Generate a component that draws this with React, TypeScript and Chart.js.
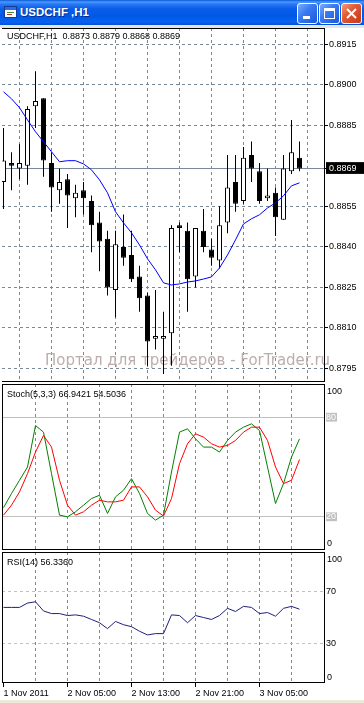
import React, { useEffect, useRef } from 'react';
import { Chart, registerables } from 'chart.js';

Chart.register(...registerables);

const FONT = '"Liberation Sans", Arial, sans-serif';
const WM_FONT = '"DejaVu Sans", Verdana, sans-serif';

// ---- data (one hourly bar per entry, from 1 Nov 21:00 to 3 Nov 10:00) ----
const OPEN = [0.8864, 0.8871, 0.8869, 0.8870, 0.8892, 0.8895, 0.8871, 0.8861, 0.8865, 0.8858, 0.8861, 0.8857, 0.8849, 0.8843, 0.8824, 0.8840, 0.8837, 0.8829, 0.8822, 0.8806, 0.8806, 0.8808, 0.8848, 0.8846, 0.8829, 0.8846, 0.8839, 0.8835, 0.8849, 0.8864, 0.8857, 0.8874, 0.8868, 0.8858, 0.8860, 0.8850, 0.8868, 0.8873];
const HIGH = [0.8884, 0.8875, 0.8878, 0.8892, 0.8905, 0.8895, 0.8875, 0.8869, 0.8867, 0.8863, 0.8864, 0.8859, 0.8853, 0.8846, 0.8846, 0.8852, 0.8846, 0.8833, 0.8823, 0.8824, 0.8816, 0.8848, 0.8849, 0.8849, 0.8847, 0.8854, 0.8843, 0.8855, 0.8874, 0.8874, 0.8877, 0.8879, 0.8871, 0.8869, 0.8862, 0.8874, 0.8887, 0.8879];
const LOW = [0.8854, 0.8861, 0.8865, 0.8863, 0.8884, 0.8866, 0.8853, 0.8856, 0.8847, 0.8851, 0.8852, 0.8838, 0.8831, 0.8822, 0.8814, 0.8833, 0.8827, 0.8816, 0.8796, 0.8802, 0.8793, 0.8796, 0.8838, 0.8816, 0.8825, 0.8838, 0.8833, 0.8832, 0.8845, 0.8853, 0.8856, 0.8864, 0.8856, 0.8857, 0.8844, 0.8850, 0.8867, 0.8868];
const CLOSE = [0.8872, 0.8870, 0.8871, 0.8891, 0.8894, 0.8872, 0.8862, 0.8864, 0.8859, 0.8860, 0.8858, 0.8848, 0.8842, 0.8825, 0.8841, 0.8836, 0.8828, 0.8821, 0.8805, 0.8807, 0.8807, 0.8847, 0.8847, 0.8828, 0.8847, 0.8840, 0.8836, 0.8848, 0.8862, 0.8856, 0.8873, 0.8869, 0.8857, 0.8859, 0.8851, 0.8869, 0.8875, 0.8869];
const MA = [0.88974, 0.88948, 0.88915, 0.88870, 0.88826, 0.88789, 0.88752, 0.88715, 0.88719, 0.88719, 0.88707, 0.88685, 0.88648, 0.88600, 0.88530, 0.88489, 0.88452, 0.88407, 0.88356, 0.88315, 0.88267, 0.88259, 0.88263, 0.88270, 0.88274, 0.88281, 0.88289, 0.88322, 0.88370, 0.88426, 0.88485, 0.88504, 0.88519, 0.88544, 0.88563, 0.88589, 0.88626, 0.88637];
const STOCH_MAIN = [25.5, 34, 42, 50, 75, 71, 46, 21, 20, 23, 27, 31, 33, 22, 32, 36, 43, 34, 22, 18, 21, 47, 71, 73, 67, 62, 62, 59, 66, 71, 74, 76, 72, 50, 28, 40, 56, 66.9421];
const STOCH_SIGNAL = [21, 27, 35, 46, 59, 69, 62, 42, 27, 21, 23, 27, 30, 29, 29, 30, 38, 38, 32, 24, 20.5, 31, 52, 64, 70, 68, 64, 62, 63, 66, 71, 74, 74, 66, 50, 40, 42, 54.5036];
const RSI = [57.7, 57.7, 57.7, 61, 62, 55, 53, 53, 51.5, 52, 51, 48.5, 46, 41.5, 47, 44.5, 43, 39.5, 36.7, 37.7, 37.7, 52, 51.5, 46, 51.5, 50, 48.5, 51.5, 57, 54.6, 58.5, 57.7, 53, 53.8, 51, 57, 58.5, 56.336];

const PRICE_TICKS = [0.8795, 0.881, 0.8825, 0.884, 0.8855, 0.8885, 0.89, 0.8915];
const STOCH_LEVELS = [20, 80];
const RSI_LEVELS = [30, 70];
const GRID_BARS = [4, 8, 12, 16, 20, 24, 28, 32, 36];
const TIME_TICK_BARS = [0, 8, 16, 24, 32];
const TIME_LABELS = ['1 Nov 2011', '2 Nov 05:00', '2 Nov 13:00', '2 Nov 21:00', '3 Nov 05:00'];
const SYMBOL = 'USDCHF,H1';
const WINDOW_TITLE = 'USDCHF ,H1';
const WATERMARK = 'Портал для трейдеров - ForTrader.ru';

const LAST = CLOSE.length - 1;
const CURRENT = CLOSE[LAST];
const X_MIN = -0.1875;
const X_MAX = 40.1875;
const PRICE_MIN = 0.879;
const PRICE_MAX = 0.8921;
const GRID_COLOR = '#778899';
const LEVEL_COLOR = '#c0c0c0';
const DASH = [3, 3];
const AXIS_W = 39;

const f4 = (v: number) => v.toFixed(4);

type EdgeLabel = { value: number; text: string; dy: number };
type PanelCfg = {
  title: string;
  titleDy: number;
  left: boolean;
  watermark?: string;
  edgeLabels?: EdgeLabel[];
};

function makePanel(cfg: PanelCfg) {
  return {
    id: 'panel',
    beforeDatasetsDraw(chart: any) {
      if (!cfg.watermark) return;
      const { ctx, chartArea: a } = chart;
      ctx.save();
      ctx.font = `15px ${WM_FONT}`;
      ctx.fillStyle = '#bcaeae';
      ctx.textBaseline = 'middle';
      ctx.textAlign = 'left';
      ctx.fillText(cfg.watermark, a.left + 43, a.bottom - 21);
      ctx.restore();
    },
    afterDraw(chart: any) {
      const { ctx, chartArea: a } = chart;
      ctx.save();
      ctx.strokeStyle = '#000';
      ctx.lineWidth = 1;
      const L = Math.round(a.left) + 0.5;
      const R = Math.round(a.right) - 0.5;
      const T = Math.round(a.top) + 0.5;
      const B = Math.round(a.bottom) - 0.5;
      ctx.beginPath();
      ctx.moveTo(L - 0.5, T);
      ctx.lineTo(R + 0.5, T);
      ctx.moveTo(L - 0.5, B);
      ctx.lineTo(R + 0.5, B);
      ctx.moveTo(R, T);
      ctx.lineTo(R, B);
      if (cfg.left) {
        ctx.moveTo(L, T);
        ctx.lineTo(L, B);
      }
      ctx.stroke();
      ctx.font = `9px ${FONT}`;
      ctx.fillStyle = '#000';
      ctx.textBaseline = 'middle';
      ctx.textAlign = 'left';
      ctx.fillText(cfg.title, a.left + 5, a.top + cfg.titleDy);
      const ys = chart.scales.y;
      (cfg.edgeLabels || []).forEach((e) => {
        ctx.fillText(e.text, a.right + 2, ys.getPixelForValue(e.value) + e.dy);
      });
      ctx.restore();
    },
  };
}

function xScale(withLabels: boolean) {
  return {
    type: 'linear',
    min: X_MIN,
    max: X_MAX,
    offset: false,
    bounds: 'data',
    afterBuildTicks: (s: any) => {
      s.ticks = (withLabels ? [0, ...GRID_BARS] : GRID_BARS).map((v) => ({ value: v }));
    },
    afterFit: (s: any) => {
      s.height = withLabels ? 20 : 0;
      s.paddingLeft = 0;
      s.paddingRight = 0;
    },
    grid: {
      color: (c: any) => (c.tick && c.tick.value === 0 ? 'rgba(0,0,0,0)' : GRID_COLOR),
      drawTicks: withLabels,
      tickLength: 4,
      tickColor: (c: any) => (c.tick && TIME_TICK_BARS.includes(c.tick.value) ? '#000' : 'rgba(0,0,0,0)'),
    },
    border: { display: false, dash: DASH },
    ticks: {
      display: withLabels,
      autoSkip: false,
      maxRotation: 0,
      minRotation: 0,
      align: 'start',
      padding: 1,
      color: '#000',
      font: { family: FONT, size: 9 },
      callback: (v: any) => {
        const k = TIME_TICK_BARS.indexOf(Number(v));
        return k >= 0 ? TIME_LABELS[k] : '';
      },
    },
  };
}

function levelScale(levels: number[], dashed: boolean, boxed: boolean) {
  return {
    type: 'linear',
    position: 'right',
    min: 0,
    max: 100,
    bounds: 'data',
    afterBuildTicks: (s: any) => {
      s.ticks = levels.map((v) => ({ value: v }));
    },
    afterFit: (s: any) => {
      s.width = AXIS_W;
      s.paddingTop = 0;
      s.paddingBottom = 0;
    },
    grid: { color: LEVEL_COLOR, drawTicks: false },
    border: { display: false, dash: dashed ? DASH : [] },
    ticks: {
      autoSkip: false,
      padding: 1,
      font: { family: FONT, size: 9 },
      color: boxed ? '#fff' : '#000',
      showLabelBackdrop: boxed,
      backdropColor: LEVEL_COLOR,
      backdropPadding: { left: 0, right: 1, top: -1, bottom: -1 },
      callback: (v: any) => String(v),
    },
  };
}

const common = {
  responsive: false,
  animation: false,
  devicePixelRatio: 1,
  events: [],
  layout: { padding: { left: 2, right: 0, top: 0, bottom: 0 } },
};

function mainConfig(): any {
  const idx = CLOSE.map((_, i) => i);
  return {
    type: 'bar',
    data: {
      datasets: [
        {
          type: 'line',
          data: MA.map((v, i) => ({ x: i, y: v })),
          borderColor: '#0000ff',
          borderWidth: 1,
          pointRadius: 0,
          order: 0,
        },
        {
          type: 'bar',
          data: idx.map((i) => ({ x: i, y: [OPEN[i], CLOSE[i]] })),
          backgroundColor: idx.map((i) => (CLOSE[i] >= OPEN[i] ? '#ffffff' : '#000000')),
          borderColor: '#000',
          borderWidth: 1,
          borderSkipped: false,
          barThickness: 5,
          grouped: false,
          inflateAmount: 0,
          order: 1,
        },
        {
          type: 'bar',
          data: idx.map((i) => ({ x: i, y: [LOW[i], HIGH[i]] })),
          backgroundColor: '#000',
          borderWidth: 0,
          barThickness: 1,
          grouped: false,
          inflateAmount: 0,
          order: 2,
        },
        {
          type: 'line',
          data: [
            { x: X_MIN, y: CURRENT },
            { x: X_MAX, y: CURRENT },
          ],
          borderColor: GRID_COLOR,
          borderWidth: 1,
          pointRadius: 0,
          order: 3,
        },
      ],
    },
    options: {
      ...common,
      plugins: { legend: { display: false }, tooltip: { enabled: false } },
      scales: {
        x: xScale(false),
        y: {
          type: 'linear',
          position: 'right',
          min: PRICE_MIN,
          max: PRICE_MAX,
          bounds: 'data',
          afterBuildTicks: (s: any) => {
            s.ticks = [...PRICE_TICKS, CURRENT].sort((a, b) => a - b).map((v) => ({ value: v }));
          },
          afterFit: (s: any) => {
            s.width = AXIS_W;
            s.paddingTop = 0;
            s.paddingBottom = 0;
          },
          grid: {
            color: (c: any) => (c.tick && c.tick.value === CURRENT ? 'rgba(0,0,0,0)' : GRID_COLOR),
            drawTicks: true,
            tickLength: 3,
            tickColor: '#000',
          },
          border: { display: false, dash: DASH },
          ticks: {
            autoSkip: false,
            padding: 1,
            font: { family: FONT, size: 9 },
            color: (c: any) => (c.tick && c.tick.value === CURRENT ? '#fff' : '#000'),
            showLabelBackdrop: (c: any) => !!(c.tick && c.tick.value === CURRENT),
            backdropColor: '#000',
            backdropPadding: { left: 3, right: 8, top: 1, bottom: 0 },
            callback: (v: any) => f4(Number(v)),
          },
        },
      },
    },
    plugins: [
      makePanel({
        title: `${SYMBOL}  ${f4(OPEN[LAST])} ${f4(HIGH[LAST])} ${f4(LOW[LAST])} ${f4(CLOSE[LAST])}`,
        titleDy: 9,
        left: false,
        watermark: WATERMARK,
      }),
    ],
  };
}

function stochConfig(): any {
  return {
    type: 'line',
    data: {
      datasets: [
        {
          data: STOCH_SIGNAL.map((v, i) => ({ x: i, y: v })),
          borderColor: '#ff0000',
          borderWidth: 1,
          pointRadius: 0,
          order: 0,
        },
        {
          data: STOCH_MAIN.map((v, i) => ({ x: i, y: v })),
          borderColor: '#008000',
          borderWidth: 1,
          pointRadius: 0,
          order: 1,
        },
      ],
    },
    options: {
      ...common,
      plugins: { legend: { display: false }, tooltip: { enabled: false } },
      scales: { x: xScale(false), y: levelScale(STOCH_LEVELS, false, true) },
    },
    plugins: [
      makePanel({
        title: `Stoch(5,3,3) ${f4(STOCH_MAIN[LAST])} ${f4(STOCH_SIGNAL[LAST])}`,
        titleDy: 11,
        left: true,
        edgeLabels: [
          { value: 100, text: '100', dy: 7.5 },
          { value: 0, text: '0', dy: -6.3 },
        ],
      }),
    ],
  };
}

function rsiConfig(): any {
  return {
    type: 'line',
    data: {
      datasets: [
        {
          data: RSI.map((v, i) => ({ x: i, y: v })),
          borderColor: '#1f1f7a',
          borderWidth: 1,
          pointRadius: 0,
        },
      ],
    },
    options: {
      ...common,
      plugins: { legend: { display: false }, tooltip: { enabled: false } },
      scales: { x: xScale(true), y: levelScale(RSI_LEVELS, true, false) },
    },
    plugins: [
      makePanel({
        title: `RSI(14) ${f4(RSI[LAST])}`,
        titleDy: 10.7,
        left: true,
        edgeLabels: [
          { value: 100, text: '100', dy: 7.3 },
          { value: 0, text: '0', dy: -5.7 },
        ],
      }),
    ],
  };
}

const btnBase: React.CSSProperties = {
  position: 'absolute',
  top: 3,
  width: 21,
  height: 21,
  boxSizing: 'border-box',
  border: '1px solid #ffffff',
  borderRadius: 3,
};
const blueBtn = 'linear-gradient(135deg,#79adff 0%,#3a7cf2 40%,#1a56dc 100%)';
const redBtn = 'linear-gradient(135deg,#f49a7c 0%,#e25a36 40%,#c3391a 100%)';

export default function App() {
  const mainRef = useRef<HTMLCanvasElement>(null);
  const stochRef = useRef<HTMLCanvasElement>(null);
  const rsiRef = useRef<HTMLCanvasElement>(null);

  useEffect(() => {
    const charts = [
      new Chart(mainRef.current as HTMLCanvasElement, mainConfig()),
      new Chart(stochRef.current as HTMLCanvasElement, stochConfig()),
      new Chart(rsiRef.current as HTMLCanvasElement, rsiConfig()),
    ];
    return () => charts.forEach((c) => c.destroy());
  }, []);

  return (
    <div
      style={{
        position: 'fixed',
        left: 0,
        top: 0,
        width: 364,
        height: 703,
        background: '#ffffff',
        overflow: 'hidden',
        fontFamily: FONT,
      }}
    >
      <div
        style={{
          position: 'absolute',
          left: 0,
          top: 0,
          width: 364,
          height: 25,
          background:
            'linear-gradient(180deg,#0a5ad8 0%,#4a9aff 8%,#2a78f5 16%,#0a5de8 35%,#0058e6 65%,#0863f0 88%,#0450d8 100%)',
        }}
      >
        <div
          style={{
            position: 'absolute',
            left: 4,
            top: 6,
            width: 13,
            height: 12,
            boxSizing: 'border-box',
            background: '#ffffff',
            border: '1px solid #123c9c',
          }}
        >
          <div style={{ position: 'absolute', left: 0, top: 0, width: 11, height: 3, background: '#2d6be0' }} />
          <div style={{ position: 'absolute', left: 2, top: 5, width: 7, height: 1, background: '#3a8a3a' }} />
          <div style={{ position: 'absolute', left: 2, top: 7, width: 5, height: 1, background: '#c03030' }} />
        </div>
        <span
          style={{
            position: 'absolute',
            left: 20,
            top: 5,
            color: '#ffffff',
            fontWeight: 'bold',
            fontSize: 11.5,
            lineHeight: '14px',
            whiteSpace: 'nowrap',
            textShadow: '1px 1px 0 #0a2a8c',
          }}
        >
          {WINDOW_TITLE}
        </span>
        <div style={{ ...btnBase, left: 297, background: blueBtn }}>
          <div style={{ position: 'absolute', left: 5, top: 12, width: 7, height: 3, background: '#fff' }} />
        </div>
        <div style={{ ...btnBase, left: 319, background: blueBtn }}>
          <div
            style={{
              position: 'absolute',
              left: 4,
              top: 4,
              width: 11,
              height: 11,
              boxSizing: 'border-box',
              border: '1px solid #fff',
              borderTop: '3px solid #fff',
            }}
          />
        </div>
        <div style={{ ...btnBase, left: 341, background: redBtn }}>
          <svg width={19} height={19} style={{ position: 'absolute', left: 0, top: 0 }}>
            <line x1={5} y1={5} x2={14} y2={14} stroke="#fff" strokeWidth={2} />
            <line x1={14} y1={5} x2={5} y2={14} stroke="#fff" strokeWidth={2} />
          </svg>
        </div>
      </div>
      <div style={{ position: 'absolute', left: 0, top: 25, width: 364, height: 3, background: '#e6e6e6' }} />
      <canvas ref={mainRef} width={364} height={354} style={{ position: 'absolute', left: 0, top: 28 }} />
      <canvas ref={stochRef} width={364} height={166} style={{ position: 'absolute', left: 0, top: 384 }} />
      <canvas ref={rsiRef} width={364} height={151} style={{ position: 'absolute', left: 0, top: 552 }} />
      <div style={{ position: 'absolute', left: 0, top: 700, width: 364, height: 3, background: '#ece9d8' }} />
    </div>
  );
}
